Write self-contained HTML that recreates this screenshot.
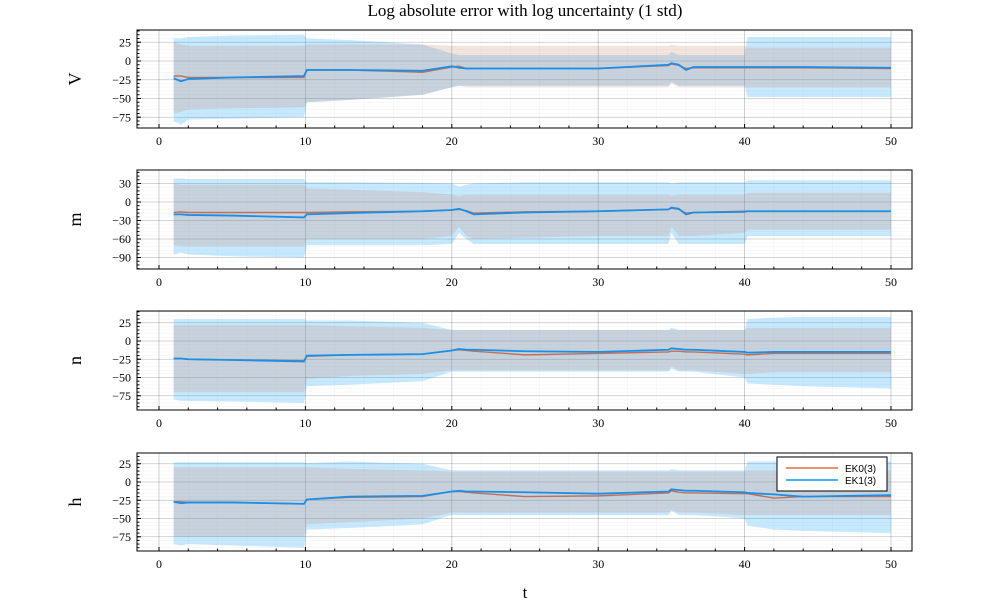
<!DOCTYPE html>
<html><head><meta charset="utf-8"><style>
body{margin:0;background:#fff}
svg text{font-family:"Liberation Serif",serif;fill:#000}
</style></head><body>
<svg id="chart" width="1000" height="600" viewBox="0 0 1000 600">
<text x="525" y="16" font-size="17" text-anchor="middle">Log absolute error with log uncertainty (1 std)</text>
<text x="525" y="598" font-size="17" text-anchor="middle">t</text>
</svg>
<script>
// shared time points
const T = [1,1.5,2,5,9.9,10.1,13,18,20,20.5,21,21.5,25,30,34.8,35,35.5,36,36.5,40,40.2,42,44,50];
const xTicks = [0,10,20,30,40,50];
const panelNames = ["V","m","n","h"];
const yTicksV = [25,0,-25,-50,-75];
const yTicksM = [30,0,-30,-60,-90];
const yTicksN = [25,0,-25,-50,-75];
const yTicksH = [25,0,-25,-50,-75];
// EK0 / EK1 series (mean, lo, hi) per panel
const ek0MeanV = [-20,-20,-22,-22,-22,-12,-12,-15,-8,-7,-10,-10,-10,-10,-6,-4,-6,-10,-9,-9,-9,-9,-9,-10];
const ek0LoV   = [-70,-68,-65,-63,-62,-55,-52,-45,-35,-33,-35,-35,-35,-35,-35,-30,-35,-35,-35,-35,-35,-35,-35,-35];
const ek0HiV   = [25,22,20,20,20,22,22,22,20,20,20,20,20,20,20,22,20,20,20,20,18,18,18,18];
const ek1MeanV = [-23,-27,-24,-22,-20,-12,-12,-13,-7,-9,-10,-10,-10,-10,-5,-3,-5,-12,-8,-8,-8,-8,-8,-9];
const ek1LoV   = [-80,-85,-78,-77,-75,-55,-52,-45,-35,-33,-33,-33,-33,-33,-33,-28,-33,-33,-33,-33,-48,-48,-48,-48];
const ek1HiV   = [30,30,32,34,35,30,28,22,10,8,8,8,8,8,8,12,8,8,8,8,32,32,32,32];

const ek0MeanM = [-17,-16,-17,-17,-17,-17,-16,-15,-13,-12,-14,-18,-16,-15,-12,-10,-12,-18,-17,-15,-15,-15,-15,-15];
const ek0LoM   = [-70,-72,-72,-72,-72,-60,-60,-60,-55,-40,-55,-60,-58,-55,-55,-40,-55,-55,-55,-50,-45,-45,-45,-45];
const ek0HiM   = [30,28,28,28,28,22,20,16,12,10,12,12,12,12,12,10,12,12,12,12,15,15,15,15];
const ek1MeanM = [-20,-20,-21,-22,-25,-20,-18,-15,-13,-11,-15,-20,-17,-15,-12,-9,-11,-20,-17,-16,-15,-15,-15,-15];
const ek1LoM   = [-85,-82,-85,-88,-90,-70,-70,-70,-68,-50,-60,-68,-68,-68,-68,-50,-68,-68,-68,-68,-55,-55,-55,-55];
const ek1HiM   = [38,38,37,37,37,32,32,31,30,25,28,30,32,32,32,30,32,32,32,32,35,35,35,35];

const ek0MeanN = [-24,-24,-25,-26,-27,-21,-19,-18,-13,-12,-13,-14,-19,-17,-15,-14,-14,-15,-15,-18,-19,-17,-17,-17];
const ek0LoN   = [-70,-70,-70,-70,-70,-52,-48,-45,-40,-40,-40,-40,-40,-40,-40,-35,-40,-40,-40,-45,-45,-43,-43,-43];
const ek0HiN   = [22,22,22,22,22,22,20,18,15,15,15,15,15,15,15,15,15,15,15,15,18,18,18,18];
const ek1MeanN = [-24,-24,-25,-26,-28,-20,-19,-18,-13,-11,-12,-12,-14,-15,-12,-10,-11,-12,-12,-15,-16,-15,-15,-15];
const ek1LoN   = [-80,-82,-82,-83,-85,-62,-60,-55,-42,-42,-42,-42,-42,-42,-42,-38,-42,-42,-42,-50,-58,-60,-62,-65];
const ek1HiN   = [30,30,30,30,30,28,28,25,15,15,15,15,15,15,15,18,15,15,15,15,30,32,33,33];

const ek0MeanH = [-27,-27,-28,-28,-30,-24,-21,-20,-13,-13,-14,-15,-20,-19,-15,-12,-14,-15,-15,-16,-16,-22,-20,-20];
const ek0LoH   = [-75,-75,-75,-75,-75,-58,-55,-50,-42,-42,-42,-42,-42,-42,-42,-38,-42,-42,-42,-45,-45,-45,-45,-45];
const ek0HiH   = [20,20,20,20,20,20,18,16,14,14,14,14,14,14,14,14,14,14,14,14,16,16,16,16];
const ek1MeanH = [-27,-29,-28,-28,-30,-24,-20,-19,-13,-12,-13,-13,-14,-16,-13,-10,-11,-12,-12,-14,-15,-17,-20,-18];
const ek1LoH   = [-85,-87,-85,-87,-90,-65,-63,-58,-45,-45,-45,-45,-45,-45,-45,-40,-45,-45,-45,-50,-60,-65,-67,-70];
const ek1HiH   = [27,27,27,27,27,26,28,25,16,16,16,16,16,16,16,18,16,16,16,16,28,28,28,28];

const panels = [
 {name:"V", top:30, bot:128, y0:61, k:0.75, ticks:yTicksV, d:[ek0MeanV,ek0LoV,ek0HiV,ek1MeanV,ek1LoV,ek1HiV]},
 {name:"m", top:170, bot:269, y0:202, k:0.617, ticks:yTicksM, d:[ek0MeanM,ek0LoM,ek0HiM,ek1MeanM,ek1LoM,ek1HiM]},
 {name:"n", top:311, bot:410, y0:341, k:0.73, ticks:yTicksN, d:[ek0MeanN,ek0LoN,ek0HiN,ek1MeanN,ek1LoN,ek1HiN]},
 {name:"h", top:453, bot:551, y0:482, k:0.73, ticks:yTicksH, d:[ek0MeanH,ek0LoH,ek0HiH,ek1MeanH,ek1LoH,ek1HiH]}
];
const svg = document.getElementById('chart');
const NS = "http://www.w3.org/2000/svg";
const X0 = 159, XK = (891-159)/50, L = 137, R = 912;
const xs = t => X0 + t*XK;
function mk(tag, attrs, parent){
  const e = document.createElementNS(NS, tag);
  for (const k in attrs) e.setAttribute(k, attrs[k]);
  (parent||svg).appendChild(e); return e;
}
panels.forEach((p, pi) => {
  const ys = v => p.y0 - v*p.k;
  const g = mk('g', {});
  
  
  for (let t = -2; t <= 52; t += 2) { if (xs(t) > L && xs(t) < R) mk('line',{x1:xs(t),x2:xs(t),y1:p.top,y2:p.bot,stroke:'#000','stroke-opacity':0.05,'stroke-width':0.5},g); }
  const step = p.ticks[0]-p.ticks[1];
  for (let v = p.ticks[0]+step; v >= p.ticks[p.ticks.length-1]-step; v -= step/5) { const y = ys(v); if (y > p.top && y < p.bot) mk('line',{x1:L,x2:R,y1:y,y2:y,stroke:'#000','stroke-opacity':0.05,'stroke-width':0.5},g); }
  xTicks.forEach(t => mk('line',{x1:xs(t),x2:xs(t),y1:p.top,y2:p.bot,stroke:'#000','stroke-opacity':0.2,'stroke-width':0.8},g));
  p.ticks.forEach(v => mk('line',{x1:L,x2:R,y1:ys(v),y2:ys(v),stroke:'#000','stroke-opacity':0.2,'stroke-width':0.8},g));
  const band = (lo, hi, fill, name) => {
    let d = 'M' + T.map((t,i) => xs(t)+','+ys(hi[i])).join('L') + 'L' + T.map((t,i)=>i).reverse().map(i => xs(T[i])+','+ys(lo[i])).join('L') + 'Z';
    const e = mk('path', {d:d, fill:fill, stroke:'none'}, g);
    
    
  };
  const line = (m, col, w, name) => {
    const e = mk('path', {d:'M' + T.map((t,i)=>xs(t)+','+ys(m[i])).join('L'), fill:'none', stroke:col, 'stroke-width':w}, g);
    
    
  };
  band(p.d[4], p.d[5], 'rgba(0,154,249,0.22)', 'ek1-band-' + p.name);
  band(p.d[1], p.d[2], 'rgba(200,120,90,0.2)', 'ek0-band-' + p.name);
  line(p.d[0], '#c0705a', 1.4, 'ek0-line-' + p.name);
  line(p.d[3], '#1a8fe6', 1.8, 'ek1-line-' + p.name);
  mk('rect',{x:L,y:p.top,width:R-L,height:p.bot-p.top,fill:'none',stroke:'#000','stroke-width':1},g);
  for (let t = 0; t <= 50; t += 2) mk('line',{x1:xs(t),x2:xs(t),y1:p.bot,y2:p.bot-(t%10===0?4:2.5),stroke:'#000'},g);
  for (let v = p.ticks[0]+step; v >= p.ticks[p.ticks.length-1]-step; v -= step/5) { const y = ys(v); if (y > p.top && y < p.bot) mk('line',{x1:L,x2:L+2.5,y1:y,y2:y,stroke:'#000'},g); }
  p.ticks.forEach(v => mk('line',{x1:L,x2:L+4,y1:ys(v),y2:ys(v),stroke:'#000'},g));
  xTicks.forEach(t => { const e = mk('text',{x:xs(t),y:p.bot+17,'font-size':12,'text-anchor':'middle'},g); e.textContent = t;
      });
  p.ticks.forEach(v => { const e = mk('text',{x:L-6,y:ys(v)+4,'font-size':12,'text-anchor':'end'},g); e.textContent = v < 0 ? '\u2212'+(-v) : v;
      });
  const yl = mk('text',{x:0,y:0,'font-size':18,'text-anchor':'middle',transform:`translate(81,${(p.top+p.bot)/2}) rotate(-90)`},g);
  yl.textContent = p.name;
  
  
});
const lg = mk('g', {});


mk('rect',{x:777,y:457,width:110,height:34,fill:'#fff',stroke:'#000','stroke-width':1},lg);
mk('line',{x1:786,x2:838,y1:468,y2:468,stroke:'#e26f46','stroke-width':1.5},lg);
mk('line',{x1:786,x2:838,y1:480,y2:480,stroke:'#009af9','stroke-width':1.5},lg);
const t1 = mk('text',{x:845,y:472,'font-size':10,style:'font-family:"Liberation Sans",sans-serif'},lg); t1.textContent='EK0(3)';
 
const t2 = mk('text',{x:845,y:484,'font-size':10,style:'font-family:"Liberation Sans",sans-serif'},lg); t2.textContent='EK1(3)';
 
</script>
</body></html>
